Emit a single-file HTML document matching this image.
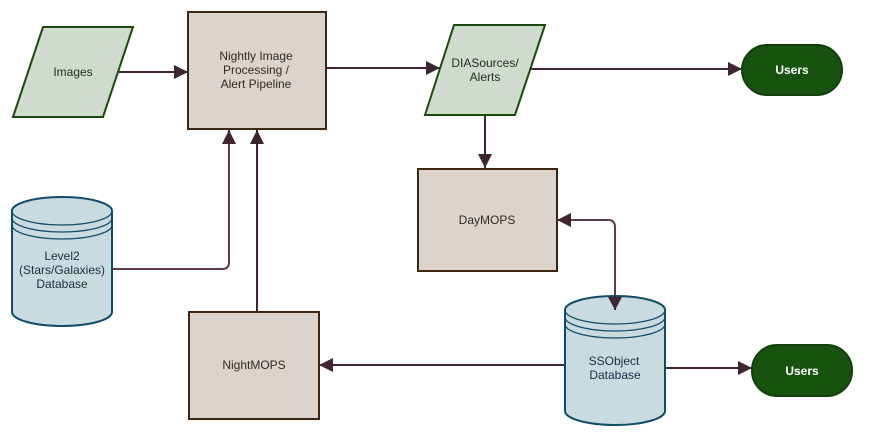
<!DOCTYPE html>
<html><head><meta charset="utf-8"><style>html,body{margin:0;padding:0;background:#fff}svg{display:block}text{font-family:"Liberation Sans",sans-serif;font-size:12px}</style></head>
<body>
<svg width="874" height="445" viewBox="0 0 874 445" xmlns="http://www.w3.org/2000/svg">
<defs>
<marker id="a" viewBox="0 0 10 10" refX="10" refY="5" markerWidth="5" markerHeight="5" orient="auto-start-reverse" markerUnits="userSpaceOnUse"><path d="M0,0 L10,5 L0,10 z" fill="#3f2431"/></marker>
<marker id="b" viewBox="0 0 10 10" refX="10" refY="5" markerWidth="14" markerHeight="14" orient="auto-start-reverse" markerUnits="userSpaceOnUse"><path d="M0,0 L10,5 L0,10 z" fill="#3f2431"/></marker>
</defs>
<g fill="none" stroke="#3f2431" stroke-width="2">
<path d="M118,72 H188" marker-end="url(#b)"/>
<path d="M326,68 H440" marker-end="url(#b)"/>
<path d="M531,69 H742" marker-end="url(#b)"/>
<path d="M485,115 V168" marker-end="url(#b)"/>
<path d="M557,220 H608 Q615,220 615,227 V310" marker-start="url(#b)" marker-end="url(#b)" stroke="#5a3c48"/>
<path d="M665,368 H752" marker-end="url(#b)"/>
<path d="M565,365 H319" marker-end="url(#b)"/>
<path d="M257,312 V130" marker-end="url(#b)"/>
<path d="M112,269 H222 Q229,269 229,262 V130" marker-end="url(#b)" stroke="#5a3c48"/>
</g>
<polygon points="13,117 43,27 133,27 103,117" fill="#d0dbd0" stroke="#1c4a0e" stroke-width="2"/>
<text x="73" y="76" text-anchor="middle" fill="#1e3012">Images</text>
<rect x="188" y="12" width="138" height="117" fill="#dbd3cd" stroke="#3e2712" stroke-width="2"/>
<text x="256" y="60" text-anchor="middle" fill="#2f2a22">Nightly Image</text>
<text x="256" y="74" text-anchor="middle" fill="#2f2a22">Processing /</text>
<text x="256" y="88" text-anchor="middle" fill="#2f2a22">Alert Pipeline</text>
<polygon points="425,115 454,25 545,25 515,115" fill="#d0dbd0" stroke="#1c4a0e" stroke-width="2"/>
<text x="485" y="67" text-anchor="middle" fill="#1e3012">DIASources/</text>
<text x="485" y="81" text-anchor="middle" fill="#1e3012">Alerts</text>
<rect x="742" y="45" width="100" height="50" rx="25" fill="#17520e" stroke="#123f0b" stroke-width="2"/>
<text x="792" y="74" text-anchor="middle" fill="#fff" font-weight="bold">Users</text>
<rect x="418" y="169" width="139" height="102" fill="#dbd3cd" stroke="#3e2712" stroke-width="2"/>
<text x="487" y="224" text-anchor="middle" fill="#2f2a22">DayMOPS</text>
<rect x="189" y="312" width="130" height="107" fill="#dbd3cd" stroke="#3e2712" stroke-width="2"/>
<text x="254" y="369" text-anchor="middle" fill="#2f2a22">NightMOPS</text>
<g stroke="#0f4d6a" stroke-width="2" fill="#cadbe0">
<path d="M12,211 A50,14 0 0 1 112,211 V312 A50,14 0 0 1 12,312 Z"/>
<path d="M12,211 A50,14 0 0 0 112,211 M12,218 A50,14 0 0 0 112,218 M12,225 A50,14 0 0 0 112,225" fill="none" stroke-width="1.3"/>
<path d="M565,310 A50,14 0 0 1 665,310 V411 A50,14 0 0 1 565,411 Z"/>
<path d="M565,310 A50,14 0 0 0 665,310 M565,317 A50,14 0 0 0 665,317 M565,324 A50,14 0 0 0 665,324" fill="none" stroke-width="1.3"/>
</g>
<path d="M615,296 V310" stroke="#3f2431" stroke-width="2"/>
<polygon points="608,297 622,297 615,310" fill="#3f2431"/>
<text x="62" y="260" text-anchor="middle" fill="#143040">Level2</text>
<text x="62" y="274" text-anchor="middle" fill="#143040">(Stars/Galaxies)</text>
<text x="62" y="288" text-anchor="middle" fill="#143040">Database</text>
<text x="614" y="365" text-anchor="middle" fill="#143040">SSObject</text>
<text x="615" y="379" text-anchor="middle" fill="#143040">Database</text>
<rect x="752" y="345" width="100" height="51" rx="25" fill="#17520e" stroke="#123f0b" stroke-width="2"/>
<text x="802" y="375" text-anchor="middle" fill="#fff" font-weight="bold">Users</text>
</svg>
</body></html>
